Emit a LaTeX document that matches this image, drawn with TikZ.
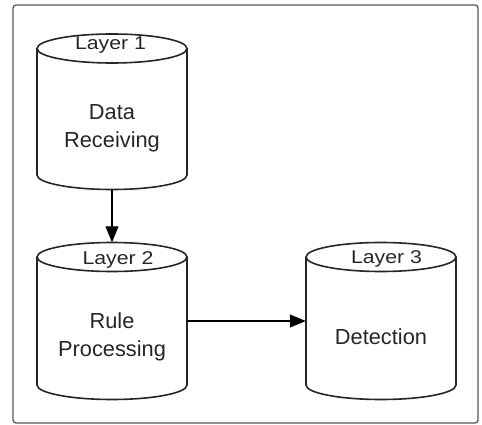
\documentclass[tikz,border=0pt]{standalone}
\usepackage{fontspec}
\setmainfont{Liberation Sans}
\newfontfamily\layerfont[FakeStretch=1.15]{Liberation Sans}
\usetikzlibrary{arrows.meta}
\newcommand\drawcylinder[3]{%
  \path[cyl] (#1-75,#2) -- (#1-75,#3) arc[start angle=180,end angle=360,x radius=75pt,y radius=14.5pt] -- (#1+75,#2);
  \draw[cyl] (#1,#2) ellipse[x radius=75pt, y radius=14.5pt];}
\begin{document}
\begin{tikzpicture}[x=1pt,y=-1pt,
  frame/.style={draw=black!65, line width=1.3pt, rounded corners=3pt},
  cyl/.style={draw=black!85, line width=1.6pt, fill=white},
  layerlabel/.style={font=\layerfont\fontsize{18.5}{20}\selectfont, text=black!85, inner sep=0pt, anchor=base},
  maintext/.style={font=\fontsize{21.8}{28.5}\selectfont, text=black!85, align=center, inner sep=0pt},
  holder/.style={inner sep=0pt, minimum width=150pt, minimum height=#1},
  conn/.style={draw=black, line width=1.1pt, -{Triangle[length=16pt,width=13pt]}}
]
\fill[white] (0,0) rectangle (482,425);
\useasboundingbox (0,0) rectangle (482,425);
\draw[frame] (13,5) rectangle (478,423);

% invisible holders for the cylinders
\node[holder=155.5pt] (h1) at (112,111.75) {};
\node[holder=157pt] (h2) at (112,321) {};
\node[holder=157pt] (h3) at (381,321) {};

\drawcylinder{112}{48.5}{175}
\drawcylinder{112}{257}{385}
\drawcylinder{381}{257}{385}

\node[layerlabel] (t1) at (110.5,50) {Layer 1};
\node[maintext] (d1) at (112,128.5) {Data\\Receiving};
\node[layerlabel] (t2) at (118,264) {Layer 2};
\node[maintext] (d2) at (112,337) {Rule\\Processing};
\node[layerlabel] (t3) at (386.5,263.5) {Layer 3};
\node[maintext, anchor=base] (d3) at (381,344) {Detection};

\draw[conn] (h1.south) -- (h2.north);
\draw[conn] (h2.east) -- (h3.west);
\end{tikzpicture}
\end{document}
